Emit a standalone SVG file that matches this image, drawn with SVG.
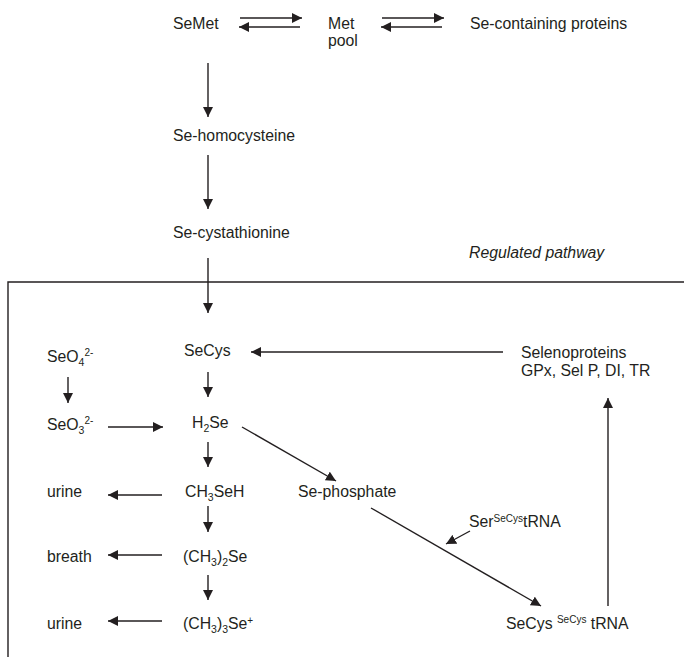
<svg xmlns="http://www.w3.org/2000/svg" width="684" height="657" viewBox="0 0 684 657">
<defs>
<style>
text{font-family:"Liberation Sans",Arial,sans-serif;font-size:15.8px;fill:#231f20}
.it{font-style:italic}
.sub{font-size:10.5px}
.sup{font-size:10px}
.ln{stroke:#231f20;stroke-width:1.4;fill:none}
.ar{marker-end:url(#ah)}
</style>
<marker id="ah" markerUnits="userSpaceOnUse" markerWidth="10" markerHeight="10" refX="9" refY="4.5" orient="auto" viewBox="0 0 9 9">
<path d="M0,0 L9,4.5 L0,9 z" fill="#231f20"/>
</marker>
</defs>
<rect width="684" height="657" fill="#fff"/>
<path id="box" class="ln" d="M8,657 V282 H684"/>
<g id="n-semet"><text x="173" y="29">SeMet</text></g>
<g id="n-metpool"><text x="328" y="29">Met</text><text x="328" y="46">pool</text></g>
<g id="n-seprot"><text x="470" y="29">Se-containing proteins</text></g>
<g id="n-sehomo"><text x="173" y="141">Se-homocysteine</text></g>
<g id="n-secyst"><text x="173" y="238">Se-cystathionine</text></g>
<g id="n-regulated"><text class="it" x="469" y="258">Regulated pathway</text></g>
<g id="n-secys"><text x="184" y="356">SeCys</text></g>
<g id="n-selenoproteins"><text x="521" y="358">Selenoproteins</text><text x="521" y="376">GPx, Sel P, DI, TR</text></g>
<g id="n-seo4"><text x="47" y="362">SeO<tspan class="sub" dy="4">4</tspan><tspan class="sup" dy="-10">2-</tspan></text></g>
<g id="n-seo3"><text x="47" y="430">SeO<tspan class="sub" dy="4">3</tspan><tspan class="sup" dy="-10">2-</tspan></text></g>
<g id="n-h2se"><text x="192" y="428">H<tspan class="sub" dy="4">2</tspan><tspan dy="-4">Se</tspan></text></g>
<g id="n-ch3seh"><text x="185" y="497">CH<tspan class="sub" dy="4">3</tspan><tspan dy="-4">SeH</tspan></text></g>
<g id="n-urine1"><text x="47" y="497">urine</text></g>
<g id="n-sephos"><text x="298" y="497">Se-phosphate</text></g>
<g id="n-dimethyl"><text x="183" y="562">(CH<tspan class="sub" dy="4">3</tspan><tspan dy="-4">)</tspan><tspan class="sub" dy="4">2</tspan><tspan dy="-4">Se</tspan></text></g>
<g id="n-breath"><text x="47" y="562">breath</text></g>
<g id="n-sertrna"><text x="469" y="527">Ser<tspan class="sup" dy="-5">SeCys</tspan><tspan dy="5">tRNA</tspan></text></g>
<g id="n-trimethyl"><text x="183" y="629">(CH<tspan class="sub" dy="4">3</tspan><tspan dy="-4">)</tspan><tspan class="sub" dy="4">3</tspan><tspan dy="-4">Se</tspan><tspan class="sup" dy="-5">+</tspan></text></g>
<g id="n-urine2"><text x="47" y="629">urine</text></g>
<g id="n-secystrna"><text x="506" y="629">SeCys <tspan class="sup" dy="-6">SeCys</tspan><tspan dy="6"> tRNA</tspan></text></g>
<g id="connectors">
<line class="ln ar" x1="240" y1="18" x2="302" y2="18"/>
<line class="ln ar" x1="300" y1="27" x2="239" y2="27"/>
<line class="ln ar" x1="382" y1="18" x2="444" y2="18"/>
<line class="ln ar" x1="442" y1="27" x2="381" y2="27"/>
<line class="ln ar" x1="208" y1="63" x2="208" y2="117"/>
<line class="ln ar" x1="208" y1="155" x2="208" y2="209"/>
<line class="ln ar" x1="208" y1="258" x2="208" y2="313"/>
<line class="ln ar" x1="208" y1="372" x2="208" y2="397"/>
<line class="ln ar" x1="68" y1="377" x2="68" y2="403"/>
<line class="ln ar" x1="108" y1="427" x2="163" y2="427"/>
<line class="ln ar" x1="208" y1="442" x2="208" y2="467"/>
<line class="ln ar" x1="208" y1="506" x2="208" y2="532"/>
<line class="ln ar" x1="208" y1="575" x2="208" y2="600"/>
<line class="ln ar" x1="162" y1="495" x2="108" y2="495"/>
<line class="ln ar" x1="162" y1="555" x2="108" y2="555"/>
<line class="ln ar" x1="162" y1="621" x2="108" y2="621"/>
<line class="ln ar" x1="503" y1="352" x2="251" y2="352"/>
<line class="ln ar" x1="242" y1="427" x2="336" y2="481"/>
<line class="ln ar" x1="371" y1="508" x2="541" y2="606"/>
<line class="ln ar" x1="470" y1="531" x2="446" y2="544"/>
<line class="ln ar" x1="608" y1="606" x2="608" y2="398"/>
</g>
</svg>
